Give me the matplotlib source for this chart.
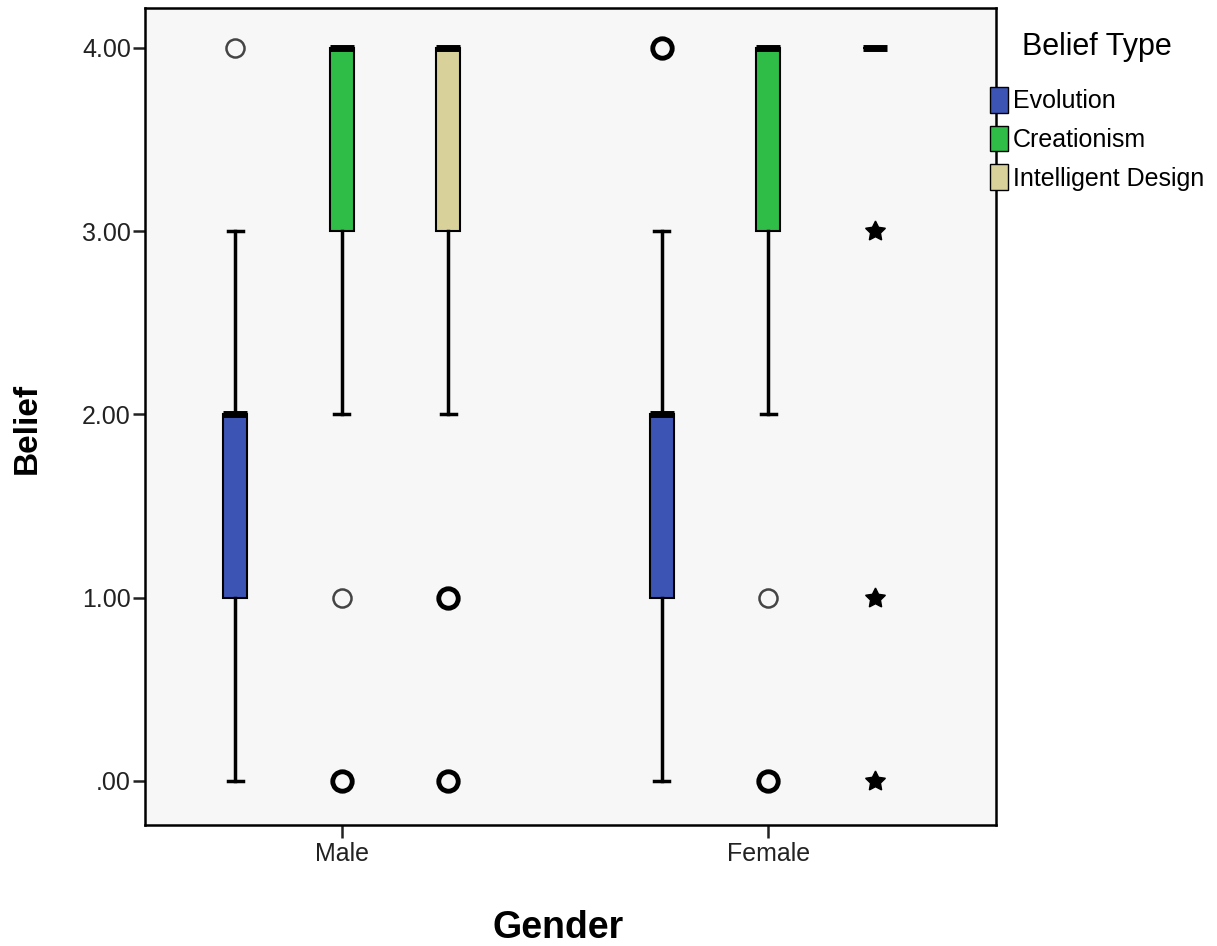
import matplotlib.pyplot as plt
from matplotlib.patches import Patch

plt.rcParams['font.family'] = ['Liberation Sans', 'DejaVu Sans']

genders = ["Male", "Female"]
belief_types = ["Evolution", "Creationism", "Intelligent Design"]
colors = ["#3c55b5", "#2fbd48", "#d8d29a"]

# box stats per gender, per belief type
q1 = [[1, 3, 3], [1, 3, 4]]
med = [[2, 4, 4], [2, 4, 4]]
q3 = [[2, 4, 4], [2, 4, 4]]
wlo = [[0, 2, 2], [0, 2, 4]]
whi = [[3, 4, 4], [3, 4, 4]]
# outliers (circles): single cases thin, repeated cases bold
out_thin = [[[4], [1], []], [[], [1], []]]
out_bold = [[[], [0], [1, 0]], [[4], [0], []]]
# extreme values (stars)
extremes = [[[], [], []], [[], [], [3, 1, 0]]]

offsets = [-0.25, 0, 0.25]
width = 0.056

fig = plt.figure(figsize=(12.17, 9.46), dpi=100)
ax = fig.add_axes([0.119, 0.128, 0.699, 0.8635])
ax.set_facecolor("#f7f7f7")

for g in range(len(genders)):
    for b in range(len(belief_types)):
        x = g + offsets[b]
        stats = [dict(q1=q1[g][b], med=med[g][b], q3=q3[g][b],
                      whislo=wlo[g][b], whishi=whi[g][b], fliers=[])]
        ax.bxp(stats, positions=[x], widths=width, patch_artist=True,
               showfliers=False, showcaps=False,
               boxprops=dict(facecolor=colors[b], edgecolor="black", linewidth=1.5),
               whiskerprops=dict(color="black", linewidth=2.5),
               medianprops=dict(color="black", linewidth=5, solid_capstyle="butt"))
        # caps only where a whisker exists
        if wlo[g][b] < q1[g][b]:
            ax.plot([x - 0.018, x + 0.018], [wlo[g][b]] * 2, color="black", lw=2.5)
        if whi[g][b] > q3[g][b]:
            ax.plot([x - 0.018, x + 0.018], [whi[g][b]] * 2, color="black", lw=2.5)
        if out_thin[g][b]:
            ax.plot([x] * len(out_thin[g][b]), out_thin[g][b], "o", ms=13,
                    mfc="none", mec="#444444", mew=1.8)
        if out_bold[g][b]:
            ax.plot([x] * len(out_bold[g][b]), out_bold[g][b], "o", ms=14,
                    mfc="none", mec="black", mew=3.5)
        if extremes[g][b]:
            ax.plot([x] * len(extremes[g][b]), extremes[g][b], marker=(5, 1, 0),
                    ls="none", ms=15, color="black")

ax.set_xlim(-0.462, 1.533)
ax.set_ylim(-0.24, 4.218)
ax.set_xticks(range(len(genders)))
ax.set_xticklabels(genders, fontsize=18)
ax.set_yticks([0, 1, 2, 3, 4])
ax.set_yticklabels([".00", "1.00", "2.00", "3.00", "4.00"], fontsize=18)
ax.tick_params(length=9, width=1.8, color="#222222", labelcolor="#222222")
ax.tick_params(axis="y", pad=1)
for s in ax.spines.values():
    s.set_linewidth(1.8)
ax.set_xlabel("Gender", fontsize=27, fontweight="bold")
ax.set_ylabel("Belief", fontsize=24, fontweight="bold")
ax.xaxis.set_label_coords(0.486, -0.104)
ax.yaxis.set_label_coords(-0.12, 0.485)

handles = [Patch(facecolor=c, edgecolor="black", label=l) for c, l in zip(colors, belief_types)]
leg = fig.legend(handles=handles, title="Belief Type", loc="upper left",
                 bbox_to_anchor=(0.795, 0.99), frameon=False, fontsize=18,
                 title_fontsize=22, handlelength=0.7, handleheight=1.2,
                 handletextpad=0.2, labelspacing=0.5)
leg._legend_box.sep = 18

fig.savefig("out.png", dpi=100)
